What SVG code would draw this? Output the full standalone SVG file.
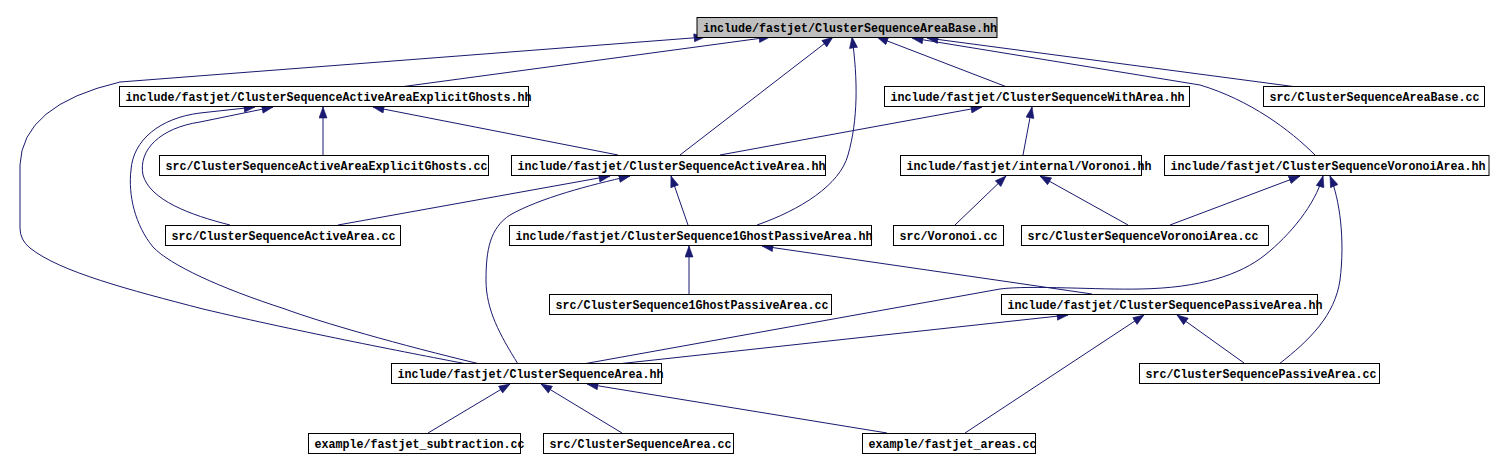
<svg xmlns="http://www.w3.org/2000/svg" width="1494" height="470" viewBox="0 0 1494 470">
<style>
.n rect{fill:#ffffff;stroke:#000000;stroke-width:1}
.n.root rect{fill:#bfbfbf}
.n text{font-family:"Liberation Mono","DejaVu Sans Mono",monospace;font-weight:bold;font-size:13px;fill:#000000}
.e path{fill:none;stroke:#191970;stroke-width:1;marker-end:url(#ah)}
</style>
<defs>
<marker id="ah" viewBox="0 0 12 9" refX="11.5" refY="4.5" markerWidth="12" markerHeight="9" markerUnits="userSpaceOnUse" orient="auto">
<path d="M0.5,0.5 L11.5,4.5 L0.5,8.5 z" fill="#191970" stroke="#191970" stroke-width="0.6"/>
</marker>
</defs>
<rect width="1494" height="470" fill="#ffffff"/>
<g id="edges" class="e">
<path d="M467,364 C420,355 300,332 203,309 C130,290 60,272 30,248 Q20,240 20,228 L20,165 Q22,105 120,82 L705,37"/>
<path d="M400,87 L770,37"/>
<path d="M680,155 L833,37"/>
<path d="M757,225 C800,210 840,185 848,155 C858,120 858,80 852,37"/>
<path d="M1007,87 L877,37"/>
<path d="M1297,87 L927,38"/>
<path d="M1315,155 C1290,130 1250,100 1200,85 L912,38"/>
<path d="M323,155 L323,107"/>
<path d="M618,155 L373,107"/>
<path d="M230,225 C190,215 150,200 143,175 C138,150 160,128 200,122 L273,107"/>
<path d="M480,364 C400,345 320,322 285,309 C220,288 170,265 153,247 C135,225 128,195 131,170 C133,140 160,118 200,113 L255,107"/>
<path d="M720,155 L982,107"/>
<path d="M1023,155 L1032,107"/>
<path d="M338,225 L610,176"/>
<path d="M518,364 C500,335 486,310 486,280 C486,250 490,228 510,215 C540,198 590,185 630,176"/>
<path d="M688,225 L671,176"/>
<path d="M689,294 L689,246"/>
<path d="M955,225 L1006,176"/>
<path d="M1128,225 L1040,176"/>
<path d="M1170,225 L1300,176"/>
<path d="M583,364 L1000,289 C1030,285 1100,290 1140,289 C1200,288 1240,275 1265,255 C1290,235 1315,205 1323,176"/>
<path d="M1092,294 L762,246"/>
<path d="M617,364 L1068,315"/>
<path d="M965,433 L1144,315"/>
<path d="M1244,363 L1177,315"/>
<path d="M1279,364 C1310,340 1335,315 1340,280 C1345,240 1340,200 1330,176"/>
<path d="M428,433 L510,384"/>
<path d="M622,433 L541,384"/>
<path d="M887,433 L587,384"/>
</g>
<g id="n1" class="n root"><rect x="697" y="17.5" width="300" height="20"/><text x="703" y="31.5" textLength="294" lengthAdjust="spacingAndGlyphs">include/fastjet/ClusterSequenceAreaBase.hh</text></g>
<g id="n2" class="n"><rect x="119.5" y="86.5" width="409" height="20"/><text x="125.5" y="100.5" textLength="406" lengthAdjust="spacingAndGlyphs">include/fastjet/ClusterSequenceActiveAreaExplicitGhosts.hh</text></g>
<g id="n3" class="n"><rect x="884.5" y="86.5" width="305" height="20"/><text x="890.5" y="100.5" textLength="294" lengthAdjust="spacingAndGlyphs">include/fastjet/ClusterSequenceWithArea.hh</text></g>
<g id="n4" class="n"><rect x="1263.5" y="86.5" width="221" height="20"/><text x="1269.5" y="100.5" textLength="210" lengthAdjust="spacingAndGlyphs">src/ClusterSequenceAreaBase.cc</text></g>
<g id="n5" class="n"><rect x="159.5" y="155.5" width="329" height="20"/><text x="165.5" y="169.5" textLength="322" lengthAdjust="spacingAndGlyphs">src/ClusterSequenceActiveAreaExplicitGhosts.cc</text></g>
<g id="n6" class="n"><rect x="511.5" y="155.5" width="314" height="20"/><text x="517.5" y="169.5" textLength="308" lengthAdjust="spacingAndGlyphs">include/fastjet/ClusterSequenceActiveArea.hh</text></g>
<g id="n7" class="n"><rect x="900.5" y="155.5" width="241" height="20"/><text x="906.5" y="169.5" textLength="245" lengthAdjust="spacingAndGlyphs">include/fastjet/internal/Voronoi.hh</text></g>
<g id="n8" class="n"><rect x="1164.5" y="155.5" width="324.5" height="20"/><text x="1170.5" y="169.5" textLength="315" lengthAdjust="spacingAndGlyphs">include/fastjet/ClusterSequenceVoronoiArea.hh</text></g>
<g id="n9" class="n"><rect x="165.5" y="225.5" width="235" height="20"/><text x="171.5" y="239.5" textLength="224" lengthAdjust="spacingAndGlyphs">src/ClusterSequenceActiveArea.cc</text></g>
<g id="n10" class="n"><rect x="509.5" y="225.5" width="362" height="20"/><text x="515.5" y="239.5" textLength="357" lengthAdjust="spacingAndGlyphs">include/fastjet/ClusterSequence1GhostPassiveArea.hh</text></g>
<g id="n11" class="n"><rect x="893.5" y="225.5" width="110" height="20"/><text x="899.5" y="239.5" textLength="98" lengthAdjust="spacingAndGlyphs">src/Voronoi.cc</text></g>
<g id="n12" class="n"><rect x="1021.5" y="225.5" width="247" height="20"/><text x="1027.5" y="239.5" textLength="231" lengthAdjust="spacingAndGlyphs">src/ClusterSequenceVoronoiArea.cc</text></g>
<g id="n13" class="n"><rect x="549.5" y="294.5" width="282" height="20"/><text x="555.5" y="308.5" textLength="273" lengthAdjust="spacingAndGlyphs">src/ClusterSequence1GhostPassiveArea.cc</text></g>
<g id="n14" class="n"><rect x="1001.5" y="294.5" width="316" height="20"/><text x="1007.5" y="308.5" textLength="315" lengthAdjust="spacingAndGlyphs">include/fastjet/ClusterSequencePassiveArea.hh</text></g>
<g id="n15" class="n"><rect x="391.5" y="363.5" width="270" height="20"/><text x="397.5" y="377.5" textLength="266" lengthAdjust="spacingAndGlyphs">include/fastjet/ClusterSequenceArea.hh</text></g>
<g id="n16" class="n"><rect x="1139.5" y="363.5" width="240" height="20"/><text x="1145.5" y="377.5" textLength="231" lengthAdjust="spacingAndGlyphs">src/ClusterSequencePassiveArea.cc</text></g>
<g id="n17" class="n"><rect x="308.5" y="433.5" width="212" height="20"/><text x="314.5" y="447.5" textLength="210" lengthAdjust="spacingAndGlyphs">example/fastjet_subtraction.cc</text></g>
<g id="n18" class="n"><rect x="543.5" y="433.5" width="190" height="20"/><text x="549.5" y="447.5" textLength="182" lengthAdjust="spacingAndGlyphs">src/ClusterSequenceArea.cc</text></g>
<g id="n19" class="n"><rect x="862.5" y="433.5" width="173" height="20"/><text x="868.5" y="447.5" textLength="168" lengthAdjust="spacingAndGlyphs">example/fastjet_areas.cc</text></g>
</svg>
